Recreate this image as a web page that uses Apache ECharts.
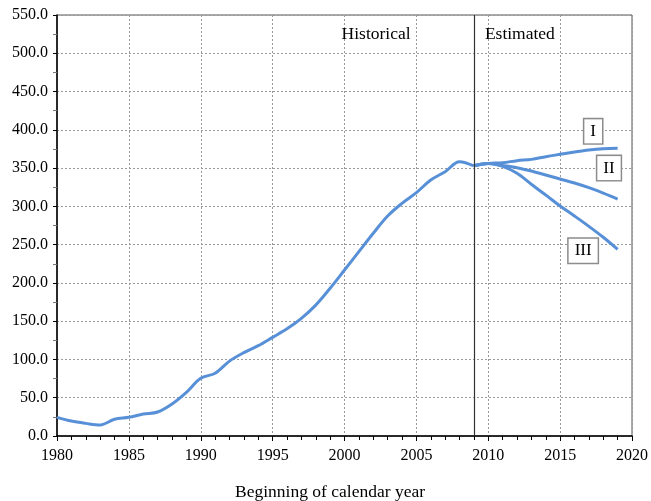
<!DOCTYPE html>
<html>
<head>
<meta charset="utf-8">
<script src="https://cdn.jsdelivr.net/npm/echarts@6/dist/echarts.min.js"></script>
<style>
  html, body { margin: 0; padding: 0; background: #fff; }
  #chart { width: 651px; height: 501px; }
</style>
</head>
<body>
<div id="chart"></div>
<script>
// Historical series, one value per calendar year
const histYears = [1980, 1981, 1982, 1983, 1984, 1985, 1986, 1987, 1988, 1989,
                   1990, 1991, 1992, 1993, 1994, 1995, 1996, 1997, 1998, 1999,
                   2000, 2001, 2002, 2003, 2004, 2005, 2006, 2007, 2008, 2009];
const histValues = [24.4, 19.5, 16.5, 14.4, 21.8, 24.4, 28.7, 31.3, 41.8, 57.0,
                    75.4, 82.0, 97.8, 108.9, 118.0, 128.9, 140.0, 153.7, 171.0, 193.0,
                    216.8, 240.8, 264.8, 287.4, 304.0, 317.9, 334.4, 345.3, 358.4, 353.0];

// Estimated scenarios
const projYears = [2009, 2010, 2011, 2012, 2013, 2014, 2015, 2016, 2017, 2018, 2019];
const scenarioI   = [353.0, 356.0, 357.0, 359.7, 361.4, 364.9, 368.0, 371.0, 373.6, 375.3, 375.8];
const scenarioII  = [353.0, 356.0, 353.5, 350.5, 346.2, 341.0, 335.7, 330.5, 324.4, 317.4, 309.6];
const scenarioIII = [353.0, 356.0, 352.3, 343.2, 328.8, 314.8, 300.5, 287.4, 273.9, 259.6, 243.9];

// Axis ranges
const xMin = 1980, xMax = 2020, xStep = 5;
const yMin = 0, yMax = 550, yStep = 50;
const splitYear = 2009;

const zip = (xs, ys) => xs.map((x, i) => [x, ys[i]]);

const FONT = '"Liberation Serif", "DejaVu Serif", serif';
const LINE_COLOR = '#5890d8';
const tickText = { fontFamily: FONT, fontSize: 16, color: '#000' };
const bigText = { fontFamily: FONT, fontSize: 17.5, color: '#000' };

const boxLabel = (text, coord) => ({
  coord: coord,
  symbolSize: 0,
  label: {
    show: true,
    position: 'inside',
    formatter: text,
    fontFamily: FONT,
    fontSize: 17,
    color: '#000',
    backgroundColor: '#fff',
    borderColor: '#8c8c8c',
    borderWidth: 1.5,
    padding: [4, 6, 3, 6]
  }
});

const plainLabel = (text, coord) => ({
  coord: coord,
  symbolSize: 0,
  label: Object.assign({
    show: true,
    position: 'inside',
    formatter: text
  }, bigText)
});

const lineSeries = (name, data, extra) => Object.assign({
  name: name,
  type: 'line',
  data: data,
  smooth: 0.35,
  showSymbol: false,
  symbol: 'none',
  lineStyle: { color: LINE_COLOR, width: 3 },
  z: 3
}, extra || {});

const chart = echarts.init(document.getElementById('chart'), null, { renderer: 'canvas' });

chart.setOption({
  animation: false,
  backgroundColor: '#fff',
  grid: {
    left: 57, right: 19, top: 15, bottom: 65,
    outerBoundsMode: 'none',
    containLabel: false,
    show: true,
    borderColor: '#555',
    borderWidth: 1
  },
  xAxis: {
    type: 'value',
    min: xMin, max: xMax, interval: xStep,
    name: 'Beginning of calendar year',
    nameLocation: 'middle',
    nameGap: 47,
    nameTextStyle: Object.assign({ padding: [0, 29, 0, 0] }, bigText),
    axisLine: { show: true, onZero: false, lineStyle: { color: '#000', width: 1.5 } },
    axisTick: { show: true, length: 5, lineStyle: { color: '#000' } },
    minorTick: { show: true, splitNumber: 5, length: 4, lineStyle: { color: '#000' } },
    axisLabel: Object.assign({ margin: 12, formatter: v => String(v) }, tickText),
    splitLine: { show: true, lineStyle: { color: '#9a9a9a', type: [2, 2], width: 1 } }
  },
  yAxis: {
    type: 'value',
    min: yMin, max: yMax, interval: yStep,
    axisLine: { show: true, onZero: false, lineStyle: { color: '#000', width: 1.5 } },
    axisTick: { show: true, length: 4, lineStyle: { color: '#000' } },
    minorTick: { show: true, splitNumber: 2, length: 4, lineStyle: { color: '#777' } },
    axisLabel: Object.assign({ margin: 9, formatter: v => v.toFixed(1) }, tickText),
    splitLine: { show: true, lineStyle: { color: '#9a9a9a', type: [2, 2], width: 1 } }
  },
  series: [
    lineSeries('Historical', zip(histYears, histValues), {
      markLine: {
        silent: true,
        symbol: 'none',
        label: { show: false },
        lineStyle: { color: '#333', type: 'solid', width: 1.2 },
        data: [{ xAxis: splitYear }]
      },
      markPoint: {
        silent: true,
        data: [
          plainLabel('Historical', [2002.2, 524]),
          plainLabel('Estimated', [2012.2, 524])
        ]
      }
    }),
    lineSeries('I', zip(projYears, scenarioI), {
      markPoint: { silent: true, data: [boxLabel('I', [2017.3, 398])] }
    }),
    lineSeries('II', zip(projYears, scenarioII), {
      markPoint: { silent: true, data: [boxLabel('II', [2018.4, 350])] }
    }),
    lineSeries('III', zip(projYears, scenarioIII), {
      markPoint: { silent: true, data: [boxLabel('III', [2016.6, 242])] }
    })
  ]
});
</script>
</body>
</html>
